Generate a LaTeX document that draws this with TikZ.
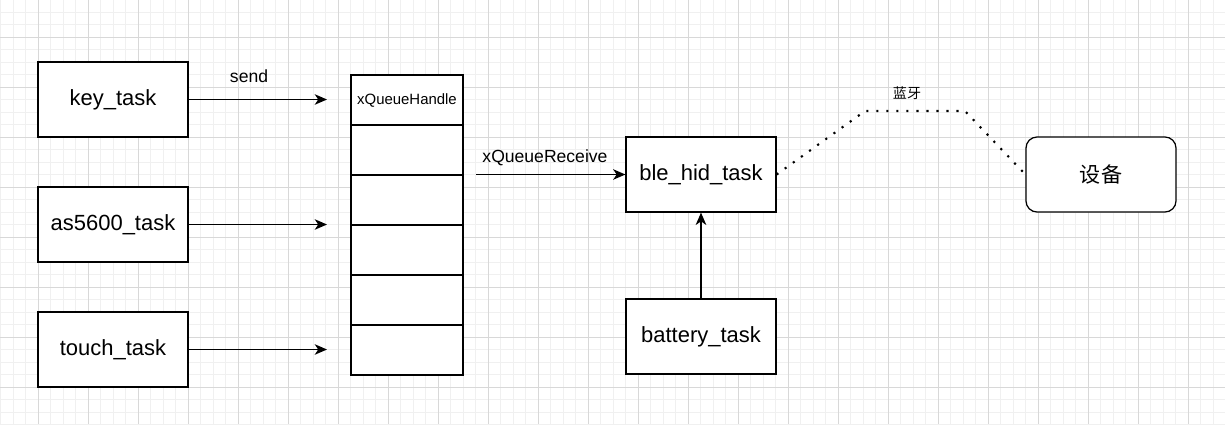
\documentclass[tikz,border=0pt]{standalone}
\usepackage{fontspec}
\setmainfont{Liberation Sans}
\newfontfamily\cjk{Noto Sans CJK SC}
\usepackage{tikz}
\usetikzlibrary{arrows.meta}

\definecolor{gridmin}{HTML}{F0F0F0}
\definecolor{gridmaj}{HTML}{D8D8D8}

\begin{document}
\begin{tikzpicture}[
		x=0.02cm, y=-0.02cm,
		task/.style={draw, line width=0.7pt, minimum width=3cm, minimum height=1.5cm, inner sep=0pt, font=\fontsize{12.5}{15}\selectfont},
		cell/.style={draw, line width=0.7pt, minimum width=2.24cm, minimum height=1cm, inner sep=0pt, font=\fontsize{8.5}{10}\selectfont},
		link/.style={-{Stealth[length=7pt, width=6pt, inset=2pt]}, line width=0.7pt},
		lbl/.style={font=\fontsize{10}{12}\selectfont},
	]
	\useasboundingbox (0,0) rectangle (1225,424);
	\clip (0,0) rectangle (1225,424);

	% grid
	\foreach \i in {0,...,97} \draw[gridmin, line width=0.5pt] (0.8+12.5*\i,0) -- (0.8+12.5*\i,424);
	\foreach \i in {0,...,33} \draw[gridmin, line width=0.5pt] (0,12.3+12.5*\i) -- (1225,12.3+12.5*\i);
	\foreach \i in {0,...,23} \draw[gridmaj, line width=0.5pt] (38.3+50*\i,0) -- (38.3+50*\i,424);
	\foreach \i in {0,...,7} \draw[gridmaj, line width=0.5pt] (0,37.3+50*\i) -- (1225,37.3+50*\i);

	\node[task, fill=white] (t1) at (113,99.5)  {key\_task};
	\node[task, fill=white] (t2) at (113,224.5) {as5600\_task};
	\node[task, fill=white] (t3) at (113,349.5) {touch\_task};

	\foreach \j in {0,...,5}
		\node[cell, fill=white] (c\j) at (407,100+50*\j) {};
	\node[font=\fontsize{8.5}{10}\selectfont] at (c0) {xQueueHandle};

	\node[task, fill=white] (ble) at (701,174.5) {ble\_hid\_task};
	\node[task, fill=white] (bat) at (701,336.5) {battery\_task};
	\node[task, fill=white, rounded corners=0.22cm, font=\cjk\fontsize{12}{14}\selectfont] (dev) at (1101,174.5) {设备};

	\coordinate (e1) at (327,99.5);
	\coordinate (e2) at (327,224.5);
	\coordinate (e3) at (327,349.5);
	\coordinate (r0) at (476,174.5);
	\coordinate (b1) at (865,111);
	\coordinate (b2) at (965,111);

	\draw[link] (t1) -- (e1) node[lbl, midway, above=6pt, xshift=-5] {send};
	\draw[link] (t2) -- (e2);
	\draw[link] (t3) -- (e3);
	\draw[link] (r0) -- (ble) node[lbl, pos=0, anchor=south west, yshift=1.5pt] {xQueueReceive};
	\draw[link] (bat) -- (ble);

	\draw[line width=1.2pt, dash pattern=on 1.2pt off 4.5pt] (ble.east) -- (b1) -- (b2) -- (dev.west);
	\node[font=\cjk\fontsize{8}{10}\selectfont] (bt) at (907,93) {蓝牙};

\end{tikzpicture}
\end{document}
